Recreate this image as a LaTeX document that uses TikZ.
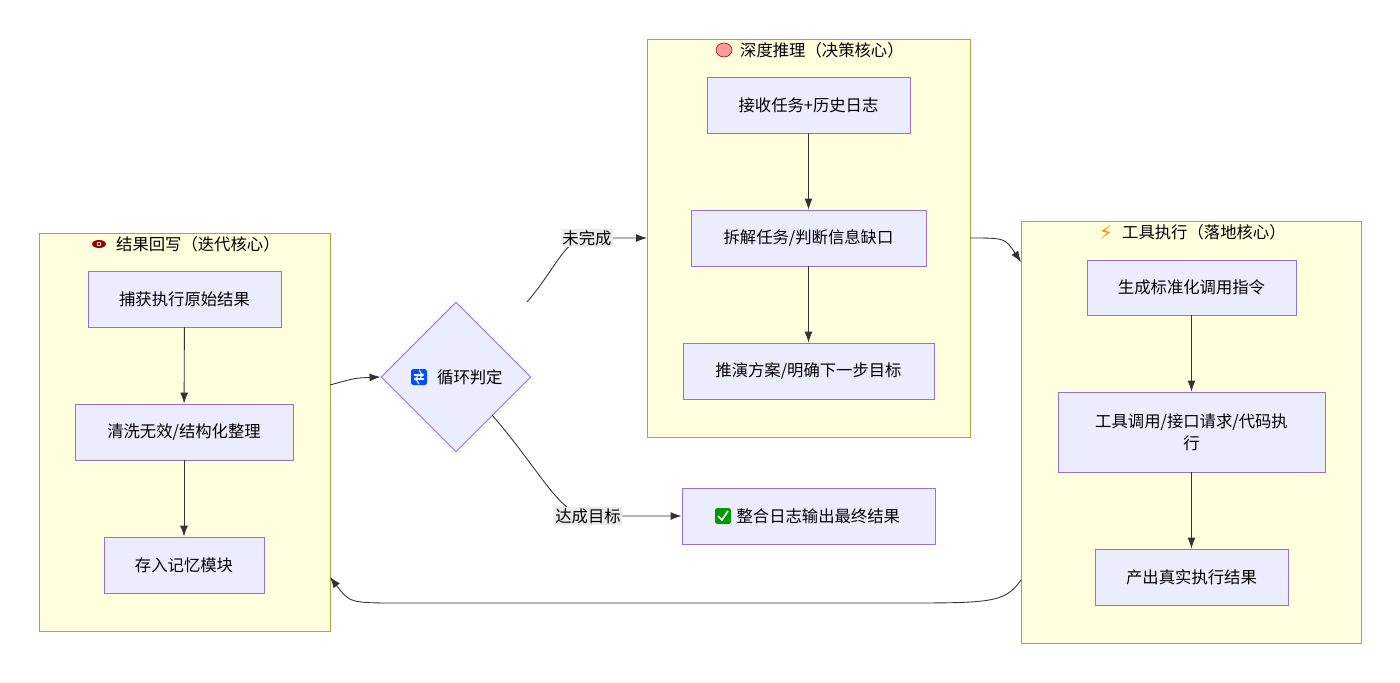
\documentclass[tikz,border=0pt]{standalone}
\usepackage{fontspec}
\setmainfont{Noto Sans CJK SC}
\newfontfamily\symfont{DejaVu Sans}
\usetikzlibrary{shapes.geometric,arrows.meta}
\definecolor{clfill}{HTML}{FFFFDE}
\definecolor{cldraw}{HTML}{AAAA33}
\definecolor{ndfill}{HTML}{ECECFF}
\definecolor{nddraw}{HTML}{9370DB}
\definecolor{edge}{HTML}{333333}
\tikzset{
	cluster/.style={draw=cldraw, fill=clfill, line width=0.5pt},
	box/.style={draw=nddraw, fill=ndfill, line width=0.5pt, font=\fontsize{9.3}{12.5}\selectfont, align=center},
	ctitle/.style={font=\fontsize{9.3}{10}\selectfont},
	link/.style={draw=edge, line width=0.5pt, -{Latex[length=2.2mm,width=1.6mm]}},
	elabel/.style={fill=black!8, inner sep=1pt, font=\fontsize{9.3}{10}\selectfont}
}
\begin{document}
\begin{tikzpicture}[x=0.02cm, y=-0.02cm]
	\useasboundingbox (0,0) rectangle (1400,683);

	% clusters
	\draw[cluster] (39,233) rectangle (330,631);
	\draw[cluster] (647,39) rectangle (970,437);
	\draw[cluster] (1021,221) rectangle (1361,643);
	\fill[red!60!black] (99,244) ellipse (7 and 4); \fill[white] (99,244) circle (2.2); \fill[black] (99,244) circle (1.3);
	\node[ctitle, anchor=west] (tleft) at (110,244) {结果回写（迭代核心）};
	\fill[pink!80!red, draw=red!50!black, line width=0.3pt] (724,50) ellipse (8 and 7);
	\node[ctitle, anchor=west] (tmid) at (734,50) {深度推理（决策核心）};
	\node[ctitle, text=orange!90!yellow, font=\symfont\fontsize{11}{11}\selectfont] (bolt) at (1106,232) {⚡};
	\node[ctitle, anchor=west] (tright) at (1116,232) {工具执行（落地核心）};

	% nodes
	\node[box, minimum width=193*0.02cm, minimum height=56*0.02cm] (capture) at (184.5,299) {捕获执行原始结果};
	\node[box, minimum width=218*0.02cm, minimum height=56*0.02cm] (clean) at (184,432) {清洗无效/结构化整理};
	\node[box, minimum width=160*0.02cm, minimum height=56*0.02cm] (store) at (184,565) {存入记忆模块};
	\node[diamond, draw=nddraw, fill=ndfill, line width=0.5pt, minimum width=150*0.02cm, minimum height=150*0.02cm, inner sep=0pt] (loop) at (456,377) {};
	\fill[blue!70!cyan, rounded corners=1pt] (411,369) rectangle (427,385);
	\draw[white, line width=0.6pt, ->] (414,375) -- (424,375);
	\draw[white, line width=0.6pt, ->] (424,379) -- (414,379);
	\node[ctitle, anchor=west] (looptxt) at (431,377) {循环判定};
	\node[box, minimum width=203*0.02cm, minimum height=56*0.02cm] (recv) at (808.5,105) {接收任务+历史日志};
	\node[box, minimum width=235*0.02cm, minimum height=56*0.02cm] (split) at (808.5,238) {拆解任务/判断信息缺口};
	\node[box, minimum width=251*0.02cm, minimum height=56*0.02cm] (plan) at (808.5,371) {推演方案/明确下一步目标};
	\node[box, minimum width=253*0.02cm, minimum height=56*0.02cm] (final) at (808.5,516) {\hspace*{1.2em}整合日志输出最终结果};
	\fill[green!60!black, rounded corners=1pt] (715,508) rectangle (731,524);
	\draw[white, line width=1pt] (718,516) -- (722,520) -- (728,511);
	\node[box, minimum width=209*0.02cm, minimum height=55*0.02cm] (gen) at (1191.5,287.5) {生成标准化调用指令};
	\node[box, minimum width=267*0.02cm, minimum height=80*0.02cm] (call) at (1191.5,432) {工具调用/接口请求/代码执\\行};
	\node[box, minimum width=193*0.02cm, minimum height=56*0.02cm] (out) at (1191.5,577) {产出真实执行结果};

	% inner edges
	\draw[link] (capture) -- (clean);
	\draw[link] (clean) -- (store);
	\draw[link] (recv) -- (split);
	\draw[link] (split) -- (plan);
	\draw[link] (gen) -- (call);
	\draw[link] (call) -- (out);

	% cluster edges
	\coordinate (lout) at (330,385);
	\coordinate (mid1) at (647,238);
	\coordinate (mout) at (970,238);
	\coordinate (rin) at (1021,262);
	\coordinate (rout) at (1021,580);
	\coordinate (lin) at (330,577);
	\coordinate (nolbl) at (587,238);
	\coordinate (yeslbl) at (588,516);
	\draw[link] (lout) .. controls (355,378) .. (loop.west);
	\draw[link] (527,302) .. controls (555,270) and (565,238) .. (nolbl) -- (mid1);
	\node[elabel] (no) at (nolbl) {未完成};
	\draw[link] (492,415) .. controls (540,470) and (560,516) .. (yeslbl) -- (final.west);
	\node[elabel] (yes) at (yeslbl) {达成目标};
	\draw[link] (mout) .. controls (1005,238) .. (rin);
	\draw[link] (rout) .. controls (1005,603) and (990,603) .. (900,603) -- (400,603) .. controls (350,603) .. (lin);
\end{tikzpicture}
\end{document}
